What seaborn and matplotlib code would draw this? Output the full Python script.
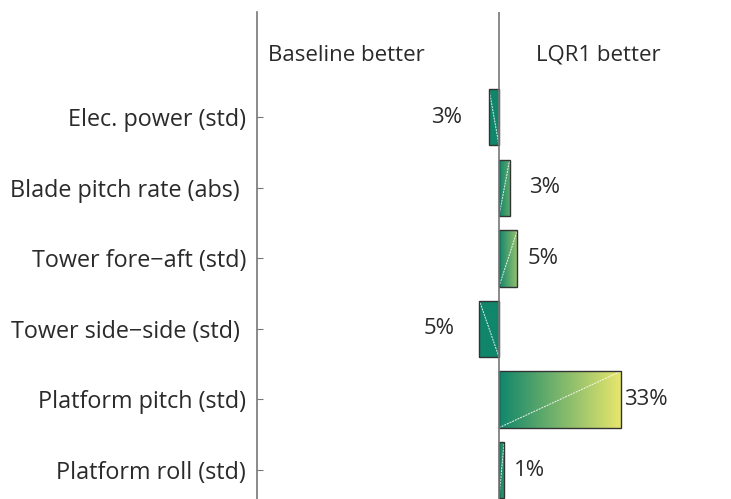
import matplotlib
matplotlib.use("Agg")
import matplotlib.pyplot as plt
import numpy as np
import pandas as pd
import seaborn as sns
from matplotlib.colors import LinearSegmentedColormap, to_rgb

# data (% improvement of LQR1 over baseline)
metrics = ["Elec. power (std)", "Blade pitch rate (abs) ", "Tower fore\u2212aft (std)",
           "Tower side\u2212side (std) ", "Platform pitch (std)", "Platform roll (std)"]
improvement = [-2.7, 2.9, 5.0, -5.3, 33.0, 1.4]
labels = ["3%", "3%", "5%", "5%", "33%", "1%"]

df = pd.DataFrame({"metric": metrics, "value": improvement})

# colour mapping: 0 -> teal, saturates to yellow at ~8 %
cmap = LinearSegmentedColormap.from_list("grn", ["#10866b", "#e9e76d"])
c_sat = 8.0
# extra pixel gap between bar end and its label
label_pad = [27, 19, 10, 25, 3, 10]
fs = 16
txt_col = "#2a2a2a"

sns.set_style("white")
plt.rcParams["font.family"] = ["Open Sans", "DejaVu Sans"]

fig = plt.figure(figsize=(7.31, 4.99), dpi=100)
ax = fig.add_axes([257 / 731, 0.0, 1 - 257 / 731, 1 - 12 / 499])

sns.barplot(data=df, x="value", y="metric", orient="h", width=0.8,
            facecolor="none", edgecolor="#333333", linewidth=1.0, ax=ax)

# gradient fill for each bar, clipped to the bar rectangle
for patch, v in zip(ax.patches, df["value"]):
    x0, y0 = patch.get_x(), patch.get_y()
    w, h = patch.get_width(), patch.get_height()
    t_end = np.clip(v / c_sat, 0, 1)
    c0 = np.array(to_rgb(cmap(0.0)))
    c1 = np.array(to_rgb(cmap(t_end)))
    s = np.linspace(0, 1, 200)[:, None]
    grad = (c0 * (1 - s) + c1 * s)[None, :, :]
    if v < 0:
        grad = grad[:, ::-1, :]
    xa, xb = min(x0, x0 + w), max(x0, x0 + w)
    im = ax.imshow(grad, extent=[xa, xb, y0 + h, y0], aspect="auto",
                   interpolation="bilinear", zorder=1)
    im.set_clip_path(patch)
    patch.set_zorder(3)
    # seam line of the two triangles in the original rendering
    ax.plot([0, v], [y0 + h, y0], color="white", lw=0.7, ls=(0, (2, 1)),
            alpha=0.9, zorder=2)

# value labels
for i, (v, lab, pad) in enumerate(zip(df["value"], labels, label_pad)):
    ha = "left" if v >= 0 else "right"
    off = pad * 0.72 if v >= 0 else -pad * 0.72
    ax.annotate(lab, xy=(v, i), xytext=(off, 0), textcoords="offset points",
                ha=ha, va="center", fontsize=fs, color=txt_col)

ax.axvline(0, color="#777777", lw=1.2, zorder=4)

px = 3.697
ax.set_xlim((257 - 499) / px, (731 - 499) / px)
ax.set_ylim(5.41, -1.49)

ax.text((346 - 499) / px, -0.88, "Baseline better", ha="center", va="center",
        fontsize=fs, color=txt_col)
ax.text((598 - 499) / px, -0.88, "LQR1 better", ha="center", va="center",
        fontsize=fs, color=txt_col)

for side in ["top", "right", "bottom"]:
    ax.spines[side].set_visible(False)
ax.spines["left"].set_color("#777777")
ax.spines["left"].set_linewidth(1.2)
ax.set_xticks([])
ax.set_xlabel("")
ax.set_ylabel("")
ax.tick_params(axis="y", direction="in", length=4.5, width=0.8, color="#777777",
               pad=8, labelsize=16.8, labelcolor=txt_col, left=True)

fig.savefig("out.png", dpi=100)
